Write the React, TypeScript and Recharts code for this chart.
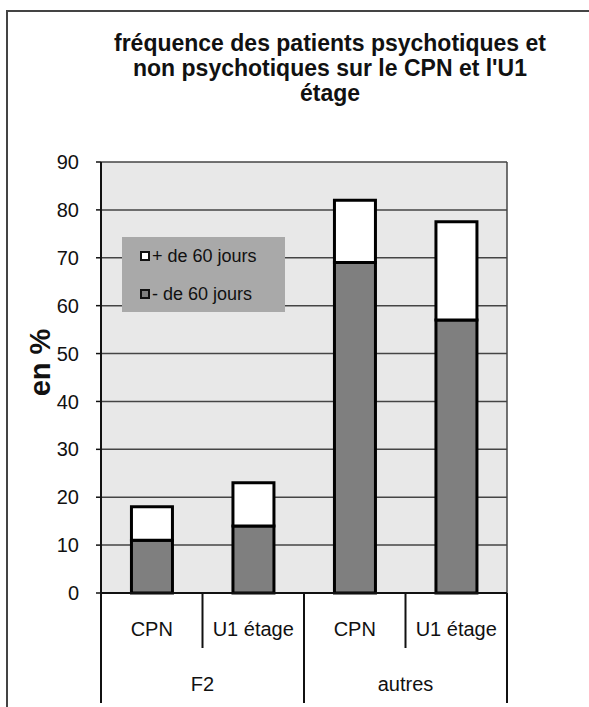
import React from 'react';
import { BarChart, Bar, XAxis, YAxis, CartesianGrid, Legend } from 'recharts';

// valeurs (en %)
const categories = ['CPN', 'U1 étage', 'CPN', 'U1 étage'];
const groups = ['F2', 'F2', 'autres', 'autres'];
const moinsDe60 = [11, 14, 69, 57];
const plusDe60 = [7, 9, 13, 20.5];
const yTicks = [0, 10, 20, 30, 40, 50, 60, 70, 80, 90];

const titleLines = [
    'fréquence des patients psychotiques et',
    "non psychotiques sur le CPN et l'U1",
    'étage'
];

const FONT = '"Liberation Sans", Arial, sans-serif';
const WIDTH = 589;
const HEIGHT = 707;
const MARGIN = { top: 162, right: 82, bottom: 0, left: 0 };
const YAXIS_W = 101;
const XAXIS_H = 114;
const BAND = (WIDTH - MARGIN.left - MARGIN.right - YAXIS_W) / categories.length;

const data = categories.map((cat, i) => ({
    key: `${groups[i]}-${cat}-${i}`,
    cat,
    group: groups[i],
    moins: moinsDe60[i],
    plus: plusDe60[i]
}));

const CategoryTick = (props: any) => {
    const { x, y, index } = props;
    const half = BAND / 2;
    const groupStart = index === 0 || groups[index - 1] !== groups[index];
    const groupEnd = index === groups.length - 1 || groups[index + 1] !== groups[index];
    const count = groups.filter(g => g === groups[index]).length;
    return (
        <g>
            <text x={x} y={y + 43} textAnchor="middle" fontSize={20} fontFamily={FONT} fill="#111">
                {categories[index]}
            </text>
            {groupStart && (
                <line x1={x - half} y1={y} x2={x - half} y2={y + 110} stroke="#111" strokeWidth={2} />
            )}
            <line
                x1={x + half}
                y1={y}
                x2={x + half}
                y2={groupEnd ? y + 110 : y + 55}
                stroke="#111"
                strokeWidth={2}
            />
            {groupStart && (
                <text
                    x={x - half + (count * BAND) / 2}
                    y={y + 98}
                    textAnchor="middle"
                    fontSize={20}
                    fontFamily={FONT}
                    fill="#111"
                >
                    {groups[index]}
                </text>
            )}
        </g>
    );
};

const LegendBox = (props: any) => {
    const items = [...(props.payload || [])].sort((a: any, b: any) =>
        a.value.startsWith('+') ? -1 : b.value.startsWith('+') ? 1 : 0
    );
    return (
        <div
            style={{
                background: '#a9a9a9',
                width: 163,
                height: 75,
                boxSizing: 'border-box',
                paddingTop: 0,
                paddingLeft: 18,
                fontFamily: FONT,
                fontSize: 18,
                color: '#111'
            }}
        >
            {items.map((it: any) => (
                <div key={it.value} style={{ display: 'flex', alignItems: 'center', height: 38 }}>
                    <span
                        style={{
                            display: 'inline-block',
                            width: 10,
                            height: 10,
                            boxSizing: 'border-box',
                            border: '2px solid #111',
                            background: it.color,
                            marginRight: 2
                        }}
                    />
                    <span>{it.value}</span>
                </div>
            ))}
        </div>
    );
};

const YLabel = (props: any) => {
    const { viewBox } = props;
    const cx = viewBox.x + 40;
    const cy = viewBox.y + viewBox.height / 2 - 15;
    return (
        <text
            x={cx}
            y={cy}
            transform={`rotate(-90 ${cx} ${cy})`}
            textAnchor="middle"
            dominantBaseline="central"
            fontSize={29}
            fontWeight="bold"
            fontFamily={FONT}
            fill="#111"
        >
            en %
        </text>
    );
};

export default function App() {
    return (
        <div
            style={{
                position: 'absolute',
                left: 0,
                top: 0,
                width: WIDTH,
                height: HEIGHT,
                overflow: 'hidden',
                background: '#fff'
            }}
        >
            <div
                style={{
                    position: 'absolute',
                    left: 6,
                    top: 10,
                    width: 700,
                    height: 800,
                    borderTop: '2px solid #444',
                    borderLeft: '2px solid #444'
                }}
            />
            <div style={{ position: 'absolute', left: 0, top: 0, width: WIDTH, textAlign: 'center' }}>
                {titleLines.map((line, i) => (
                    <div
                        key={i}
                        style={{
                            position: 'absolute',
                            left: 0,
                            width: 660,
                            top: 31 + i * 25,
                            lineHeight: '25px',
                            fontFamily: FONT,
                            fontWeight: 'bold',
                            fontSize: 23,
                            color: '#111'
                        }}
                    >
                        {line}
                    </div>
                ))}
            </div>
            <div style={{ position: 'absolute', left: 0, top: 0 }}>
                <BarChart width={WIDTH} height={HEIGHT} data={data} margin={MARGIN} barCategoryGap="30%">
                    <CartesianGrid
                        fill="#e8e8e8"
                        stroke="#444"
                        strokeWidth={1.5}
                        verticalCoordinatesGenerator={({ offset }: any) => [offset.left + offset.width]}
                    />
                    <XAxis
                        dataKey="key"
                        height={XAXIS_H}
                        tickSize={0}
                        tickMargin={0}
                        tickLine={false}
                        axisLine={{ stroke: '#111', strokeWidth: 2 }}
                        tick={<CategoryTick />}
                        interval={0}
                    />
                    <YAxis
                        width={YAXIS_W}
                        domain={[0, 90]}
                        ticks={yTicks}
                        interval={0}
                        tickSize={5}
                        tickMargin={17}
                        axisLine={{ stroke: '#111', strokeWidth: 2 }}
                        tickLine={{ stroke: '#111', strokeWidth: 1.5 }}
                        tick={{ fontSize: 20, fontFamily: FONT, fill: '#111' }}
                        label={<YLabel />}
                    />
                    <Legend
                        layout="vertical"
                        align="center"
                        verticalAlign="middle"
                        content={<LegendBox />}
                        wrapperStyle={{ left: 122, top: 237, width: 163, height: 75 }}
                    />
                    <Bar
                        dataKey="moins"
                        name="- de 60 jours"
                        stackId="a"
                        fill="#7f7f7f"
                        stroke="#000"
                        strokeWidth={3}
                        isAnimationActive={false}
                    />
                    <Bar
                        dataKey="plus"
                        name="+ de 60 jours"
                        stackId="a"
                        fill="#ffffff"
                        stroke="#000"
                        strokeWidth={3}
                        isAnimationActive={false}
                    />
                </BarChart>
            </div>
        </div>
    );
}
